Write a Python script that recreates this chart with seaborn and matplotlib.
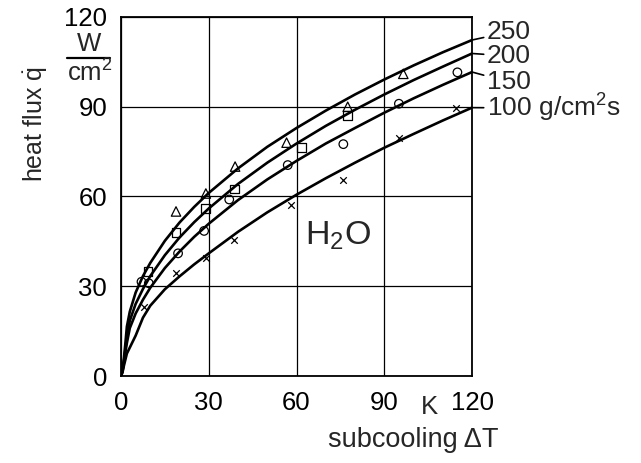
import matplotlib
matplotlib.use("Agg")
import matplotlib.pyplot as plt
import seaborn as sns
import pandas as pd

# Mass flux levels (g/cm^2 s)
fluxes = [250, 200, 150, 100]

# Correlation curves: subcooling dT (K) vs heat flux q (W/cm^2)
curve_dT = [0, 0.5, 1, 1.5, 2, 3, 5, 7.5, 10, 15, 20, 25, 30, 40, 50, 60, 70, 80, 90, 100, 110, 120]
curve_q250 = [0, 2, 6, 11, 16.5, 21.5, 27.9, 33.4, 37.8, 45.2, 51.3, 56.5, 61.2, 69.4, 76.6, 82.9, 88.7, 94.1, 99.1, 103.8, 108.2, 112.3]
curve_q200 = [0, 1.8, 5, 9, 13, 18.5, 24.1, 29.1, 33.4, 40.4, 46.3, 51.4, 56.0, 64.2, 71.3, 77.7, 83.6, 89.0, 94.1, 98.9, 103.4, 107.8]
curve_q150 = [0, 1.5, 4.5, 8, 11, 16, 20.9, 25.5, 29.5, 36.1, 41.6, 46.5, 50.9, 58.8, 65.7, 71.9, 77.7, 82.9, 88.0, 92.8, 97.3, 101.6]
curve_q100 = [0, 1.2, 3.5, 5.5, 7.5, 9.5, 13.5, 19.5, 23.5, 29.0, 33.3, 37.3, 41.0, 48.2, 54.7, 60.6, 66.1, 71.3, 76.3, 80.9, 85.4, 89.7]

# Measured points
meas_dT250 = [18.8, 29, 39, 56.6, 77.5, 96.5]
meas_q250 = [55, 61, 70, 78, 90, 101]
meas_dT200 = [9.2, 18.8, 29, 38.8, 61.8, 77.5]
meas_q200 = [35, 48, 56, 62.5, 76.5, 87]
meas_dT150 = [7, 9.5, 19.5, 28.4, 37, 57, 76, 95, 115]
meas_q150 = [31.5, 31, 41, 48.5, 59, 70.5, 77.5, 91, 101.5]
meas_dT100 = [8, 18.8, 29, 38.5, 58, 76, 95, 114.5]
meas_q100 = [23, 34.5, 39.5, 45.5, 57, 65.5, 79.5, 89.5]

x_ticks = [0, 30, 60, 90, 120]
y_ticks = [0, 30, 60, 90, 120]
flux_labels = ["250", "200", "150", "100 g/cm$^2$s"]

curves = pd.DataFrame({
    "dT": curve_dT * 4,
    "q": curve_q250 + curve_q200 + curve_q150 + curve_q100,
    "G": [250] * len(curve_dT) + [200] * len(curve_dT) + [150] * len(curve_dT) + [100] * len(curve_dT),
})
points = {
    250: (meas_dT250, meas_q250, "^", 46),
    200: (meas_dT200, meas_q200, "s", 40),
    150: (meas_dT150, meas_q150, "o", 38),
    100: (meas_dT100, meas_q100, "x", 22),
}

sns.set_style("white")
plt.rcParams["font.family"] = ["Liberation Sans", "DejaVu Sans"]
plt.rcParams["mathtext.fontset"] = "custom"
plt.rcParams["mathtext.rm"] = "Liberation Sans"
plt.rcParams["mathtext.it"] = "Liberation Sans"
plt.rcParams["mathtext.default"] = "regular"

fig = plt.figure(figsize=(6.41, 4.63), dpi=100)
ax = fig.add_axes([0.1888, 0.1879, 0.5476, 0.7754])

for g in fluxes:
    sub = curves[curves["G"] == g]
    sns.lineplot(data=sub, x="dT", y="q", ax=ax, color="black", lw=1.9,
                 sort=False, estimator=None, legend=False)
    xs, ys, mk, sz = points[g]
    if mk == "x":
        sns.scatterplot(x=xs, y=ys, ax=ax, marker=mk, s=sz, color="black",
                        linewidth=0.9, legend=False, zorder=4)
    else:
        sns.scatterplot(x=xs, y=ys, ax=ax, marker=mk, s=sz, facecolor="none",
                        edgecolor="black", linewidth=0.9, legend=False, zorder=4)

ax.set_xlim(0, 120)
ax.set_ylim(0, 120)
ax.set_xticks(x_ticks)
ax.set_yticks(y_ticks)
ax.set_xticklabels([str(t) for t in x_ticks])
ax.set_yticklabels([str(t) for t in y_ticks])
ax.tick_params(axis="both", length=0, labelsize=18.5, colors="black")
ax.tick_params(axis="x", pad=11)
ax.tick_params(axis="y", pad=10)
ax.grid(True, color="black", lw=0.9)
ax.set_axisbelow(True)
for sp in ax.spines.values():
    sp.set_visible(True)
    sp.set_color("black")
    sp.set_linewidth(1.3)
ax.set_xlabel("")
ax.set_ylabel("")

# Unit annotations
ax.text(105.5, -10.3, "K", fontsize=18.5, ha="center", va="center")
fig.text(499 / 641, 1 - 440 / 463, "subcooling ΔT", fontsize=19.5, ha="right", va="center")
fig.text(35 / 641, 1 - 124 / 463, r"heat flux $\dot{q}$", fontsize=18, rotation=90,
         ha="center", va="center")
fig.text(89 / 641, 1 - 44 / 463, "W", fontsize=18.5, ha="center", va="center")
fig.add_artist(plt.Line2D([67 / 641, 110 / 641], [1 - 58 / 463, 1 - 58 / 463],
                          color="black", lw=1.6, transform=fig.transFigure))
fig.text(90 / 641, 1 - 73 / 463, "cm$^2$", fontsize=18.5, ha="center", va="center")

ax.text(74, 47, "H$_2$O", fontsize=24.5, ha="center", va="center")

# Curve labels with leader lines
label_pos = [(487, 32), (487, 56), (487, 82), (487, 108)]
ends = [curve_q250[-1], curve_q200[-1], curve_q150[-1], curve_q100[-1]]
for lab, (px, py), qend in zip(flux_labels, label_pos, ends):
    ax.annotate(lab, xy=(120, qend), xycoords="data",
                xytext=(px / 641, 1 - py / 463), textcoords="figure fraction",
                fontsize=19, ha="left", va="center",
                arrowprops=dict(arrowstyle="-", color="black", lw=1.2,
                                shrinkA=0, shrinkB=0),
                annotation_clip=False)

fig.savefig("out.png", dpi=100)
